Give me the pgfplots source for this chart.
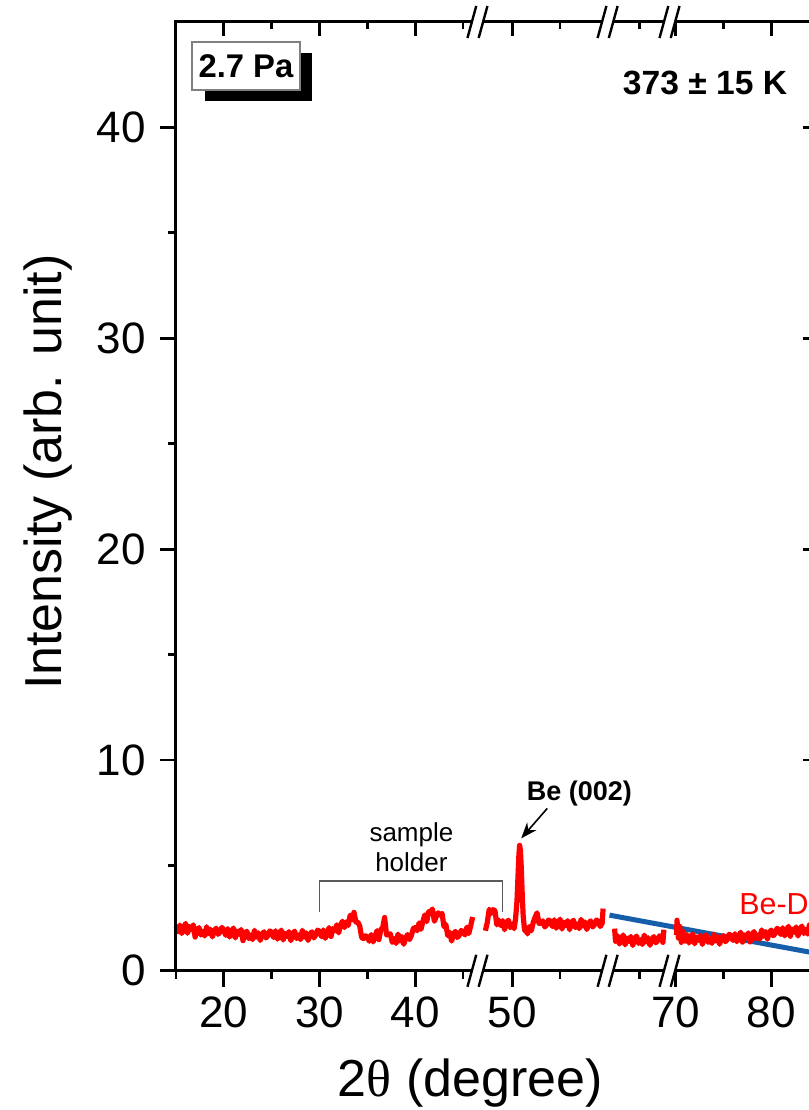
\documentclass[border=0pt]{standalone}
\usepackage{pgfplots}
\pgfplotsset{compat=1.18}
\usepackage{pgfplotstable}
\usepackage{fontspec}
\setmainfont{Liberation Sans}
\newfontfamily\serifgreek{Liberation Serif}
\usetikzlibrary{calc,shadows,arrows.meta}
\definecolor{bline}{RGB}{22,94,170}
\definecolor{bracketgray}{RGB}{90,90,90}

% segment 1: 15-46 deg
\pgfplotstableread{
x y
15.0 2.10
15.2 1.85
15.4 2.17
15.6 1.77
15.8 2.00
16.0 2.25
16.2 1.78
16.4 2.10
16.6 1.95
16.8 2.18
17.0 1.60
17.2 1.93
17.4 2.05
17.6 1.70
17.8 1.87
18.0 1.65
18.2 2.09
18.4 1.77
18.6 1.97
18.8 1.61
19.0 1.91
19.2 2.02
19.4 1.73
19.6 1.83
19.8 2.06
20.0 1.93
20.2 1.68
20.4 2.00
20.6 1.60
20.8 1.83
21.0 2.03
21.2 1.56
21.4 1.88
21.6 1.73
21.8 1.96
22.0 1.43
22.2 1.76
22.4 1.88
22.6 1.53
22.8 1.70
23.0 1.48
23.2 1.92
23.4 1.60
23.6 1.80
23.8 1.44
24.0 1.74
24.2 1.85
24.4 1.56
24.6 1.66
24.8 1.89
25.0 1.83
25.2 1.58
25.4 1.90
25.6 1.50
25.8 1.73
26.0 1.93
26.2 1.46
26.4 1.78
26.6 1.63
26.8 1.86
27.0 1.43
27.2 1.76
27.4 1.88
27.6 1.53
27.8 1.70
28.0 1.48
28.2 1.92
28.4 1.60
28.6 1.80
28.8 1.44
29.0 1.74
29.2 1.85
29.4 1.56
29.6 1.70
29.8 1.93
30.0 1.87
30.2 1.62
30.4 1.94
30.6 1.54
30.8 1.77
31.0 2.05
31.2 1.63
31.4 2.00
31.6 1.90
31.8 2.18
32.0 1.80
32.2 2.18
32.4 2.35
32.6 2.05
32.8 2.32
33.0 2.15
33.2 2.64
33.4 2.42
33.6 2.77
33.8 2.31
34.0 2.31
34.2 2.12
34.4 1.58
34.6 1.53
34.8 1.66
35.0 1.60
35.2 1.40
35.4 1.72
35.6 1.37
35.8 1.65
36.0 1.90
36.2 1.48
36.4 1.95
36.6 2.05
36.8 2.53
37.0 1.70
37.2 1.73
37.4 1.75
37.6 1.35
37.8 1.52
38.0 1.30
38.2 1.74
38.4 1.42
38.6 1.62
38.8 1.26
39.0 1.56
39.2 1.72
39.4 1.48
39.6 1.68
39.8 2.01
40.0 2.05
40.2 1.90
40.4 2.27
40.6 1.97
40.8 2.35
41.0 2.65
41.2 2.33
41.4 2.80
41.6 2.80
41.8 2.93
42.0 2.35
42.2 2.58
42.4 2.75
42.6 2.65
42.8 2.72
43.0 2.10
43.2 2.19
43.4 1.67
43.6 1.82
43.8 1.41
44.0 1.76
44.2 1.87
44.4 1.58
44.6 1.68
44.8 1.91
45.0 1.85
45.2 1.70
45.4 2.07
45.6 1.77
45.8 2.15
46.0 2.55
}\segA

% segment 2: 47-59.5 deg
\pgfplotstableread{
x y
47.2 1.90
47.4 2.30
47.6 2.92
47.8 2.72
48.0 2.90
48.2 2.85
48.4 2.18
48.6 2.40
48.8 2.15
49.0 2.38
49.2 1.95
49.4 2.28
49.6 2.40
49.8 2.05
50.0 2.22
50.2 2.00
50.35 2.45
50.5 3.30
50.6 4.40
50.7 5.50
50.78 5.95
50.86 5.70
50.95 4.90
51.05 3.60
51.15 2.60
51.3 1.90
51.45 2.05
51.6 1.75
51.8 2.10
52.0 1.90
52.2 2.30
52.4 2.55
52.6 2.75
52.8 2.25
53.0 2.26
53.2 2.37
53.4 2.08
53.6 2.18
53.8 2.41
54.0 2.35
54.2 2.10
54.4 2.42
54.6 2.02
54.8 2.25
55.0 2.45
55.2 1.98
55.4 2.30
55.6 2.15
55.8 2.38
56.0 1.95
56.2 2.28
56.4 2.40
56.6 2.05
56.8 2.22
57.0 2.00
57.2 2.44
57.4 2.12
57.6 2.32
57.8 1.96
58.0 2.26
58.2 2.37
58.4 2.08
58.6 2.18
58.8 2.41
59.0 2.35
59.2 2.10
59.4 2.25
59.5 2.95
}\segB

% segment 3: 62.4-67.6 deg
\pgfplotstableread{
x y
62.4 2.00
62.5 1.40
62.7 1.67
62.9 1.27
63.1 1.50
63.3 1.70
63.5 1.23
63.7 1.55
63.9 1.40
64.1 1.63
64.3 1.20
64.5 1.53
64.7 1.65
64.9 1.30
65.1 1.47
65.3 1.25
65.5 1.69
65.7 1.37
65.9 1.57
66.1 1.21
66.3 1.51
66.5 1.62
66.7 1.33
66.9 1.43
67.1 1.66
67.3 1.60
67.45 1.35
67.55 1.95
}\segC

% segment 4: 70-84.6 deg
\pgfplotstableread{
x y
70.1 1.70
70.15 2.40
70.3 1.55
70.45 2.10
70.6 1.35
70.8 1.85
71.0 1.40
71.2 1.72
71.4 1.32
71.6 1.55
71.8 1.75
72.0 1.28
72.2 1.60
72.4 1.45
72.6 1.68
72.8 1.25
73.0 1.58
73.2 1.70
73.4 1.35
73.6 1.52
73.8 1.30
74.0 1.74
74.2 1.42
74.4 1.62
74.6 1.26
74.8 1.56
75.0 1.67
75.2 1.38
75.4 1.48
75.6 1.73
75.8 1.67
76.0 1.44
76.2 1.76
76.4 1.38
76.6 1.61
76.8 1.83
77.0 1.36
77.2 1.70
77.4 1.55
77.6 1.80
77.8 1.37
78.0 1.72
78.2 1.86
78.4 1.51
78.6 1.70
78.8 1.50
79.0 1.94
79.2 1.64
79.4 1.86
79.6 1.50
79.8 1.82
80.0 1.93
80.2 1.66
80.4 1.76
80.6 2.01
80.8 1.95
81.0 1.72
81.2 2.04
81.4 1.66
81.6 1.89
81.8 2.11
82.0 1.64
82.2 1.98
82.4 1.83
82.6 2.08
82.8 1.65
83.0 1.98
83.2 2.12
83.4 1.77
83.6 1.96
83.8 1.74
84.0 2.20
84.2 1.88
84.4 2.10
84.6 1.74
}\segD

\begin{document}
\begin{tikzpicture}
\pgfplotsset{
  commonax/.style={
    scale only axis, width=160.3pt, height=237.2pt,
    xmin=15, xmax=82, ymin=0, ymax=45,
    xtick={20,30,40,50.13,67.2,77.2},
    minor xtick={15,25,35,45,55.13,63.43,72.2},
    ytick={0,10,20,30,40},
    minor ytick={5,15,25,35},
    axis line style={line width=0.75pt, black},
    every tick/.style={black, line width=0.7pt},
    clip=false,
  }
}
\begin{axis}[commonax,
  tick align=outside, xtick pos=left, ytick pos=left,
  major tick length=4pt, minor tick length=2pt,
  xticklabels={20,30,40,50,70,80},
  /pgf/number format/assume math mode=true,
  ticklabel style={font=\fontsize{11}{13}\selectfont},
  xticklabel style={anchor=base, yshift=-10.1pt},
  yticklabel style={anchor=east},
  xlabel={2{\serifgreek θ} (degree)},
  ylabel={Intensity (arb. unit)},
  label style={font=\fontsize{13}{15}\selectfont},
  xlabel style={at={(axis description cs:0.459,-0.118)}, anchor=center},
  ylabel style={at={(axis description cs:-0.1996,0.5256)}, anchor=center},
]
\coordinate (O) at (rel axis cs:0,0);
\coordinate (bb1) at (axis cs:46.5,0);
\coordinate (bb2) at (axis cs:60.1,0);
\coordinate (bb3) at (axis cs:66.57,0);
\coordinate (bt1) at (axis cs:46.5,45);
\coordinate (bt2) at (axis cs:60.1,45);
\coordinate (bt3) at (axis cs:66.57,45);

\addplot[bline, line width=1.25pt, no markers] coordinates {(60.3,2.64) (82,0.82)};

\addplot[red, line width=1.3pt, line join=round, no markers] table[x=x, y=y] {\segA};
\addplot[red, line width=1.3pt, line join=round, no markers] table[x expr=\thisrow{x}+0.13, y=y] {\segB};
\addplot[red, line width=1.3pt, line join=round, no markers] table[x expr=\thisrow{x}-1.57, y=y] {\segC};
\addplot[red, line width=1.3pt, line join=round, no markers] table[x expr=\thisrow{x}-2.8, y=y] {\segD};

\draw[bracketgray, line width=0.4pt] (axis cs:30,2.8) -- (axis cs:30,4.27) -- (axis cs:49.1,4.27) -- (axis cs:49.1,2.8);
\node[align=center, font=\fontsize{6.5}{7.5}\selectfont] at (axis cs:39.6,5.87) {sample\\holder};
\node[font=\bfseries\fontsize{6.75}{8}\selectfont] at (axis cs:57.16,8.43) {Be (002)};
\draw[-{Stealth[length=4pt,width=3pt]}, line width=0.4pt] (axis cs:53.79,7.70) -- (axis cs:51.07,6.28);
\node[red, anchor=west, inner sep=0pt, font=\fontsize{7.6}{9}\selectfont] at (axis cs:73.79,3.16) {Be-D};

\node[draw=gray, line width=0.4pt, fill=white, minimum width=26.9pt, minimum height=12.1pt, inner sep=0pt,
      font=\bfseries\fontsize{8.2}{9}\selectfont,
      drop shadow={shadow xshift=3.1pt, shadow yshift=-2.8pt, fill=black, opacity=1}]
      at (axis cs:22.31,42.91) {2.7 Pa};
\node[font=\bfseries\fontsize{8.4}{10}\selectfont] at (axis cs:70.28,42.1) {373 ± 15 K};
\end{axis}

\begin{axis}[commonax,
  tick align=inside, xtick pos=right, ytick pos=right,
  major tick length=3.5pt, minor tick length=1.75pt,
  xticklabels={}, yticklabels={},
]
\end{axis}

\foreach \c in {bb1,bb2,bb3,bt1,bt2,bt3} {
  \fill[white] ($(\c)+(-1.3pt,-0.6pt)$) rectangle ($(\c)+(1.3pt,0.6pt)$);
  \draw[line width=0.6pt] ($(\c)+(-2.5pt,-4pt)$) -- ($(\c)+(-0.3pt,4pt)$);
  \draw[line width=0.6pt] ($(\c)+(0.3pt,-4pt)$) -- ($(\c)+(2.5pt,4pt)$);
}

\pgfresetboundingbox
\path[use as bounding box] ($(O)+(-44pt,-34.8pt)$) rectangle ($(O)+(158pt,242.7pt)$);
\end{tikzpicture}
\end{document}
